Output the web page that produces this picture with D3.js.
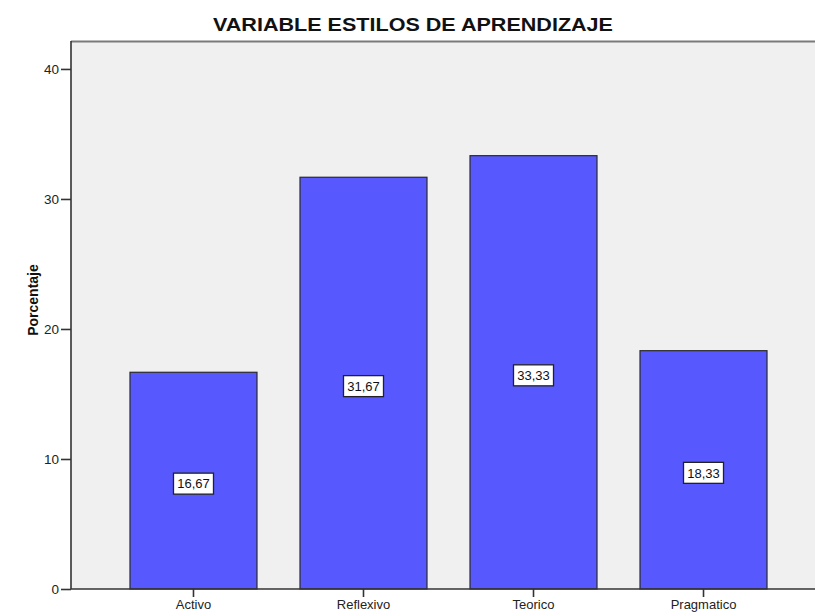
<!DOCTYPE html>
<html><head><meta charset="utf-8">
<script src="https://cdn.jsdelivr.net/npm/d3@7"></script>
<style>body{margin:0;background:#fff}svg{display:block}text{font-family:"Liberation Sans",Arial,sans-serif}</style>
</head><body>
<svg id="c" width="815" height="616"></svg>
<script>
const categories = ["Activo", "Reflexivo", "Teorico", "Pragmatico"];
const values = [16.67, 31.67, 33.33, 18.33];
const valueLabels = ["16,67", "31,67", "33,33", "18,33"];
const yTicks = [0, 10, 20, 30, 40];
const title = "VARIABLE ESTILOS DE APRENDIZAJE";
const yLabel = "Porcentaje";

const svg = d3.select("#c");
const pLeft = 71, pTop = 41, pBottom = 589, pRight = 826;
const y = d3.scaleLinear().domain([0, 42.15]).range([pBottom, pTop]);
const x = d3.scaleBand().domain(categories).range([pLeft, pRight])
  .paddingInner(0.253).paddingOuter(0.347);

svg.append("rect").attr("x", pLeft).attr("y", pTop).attr("width", 815 - pLeft).attr("height", pBottom - pTop)
  .attr("fill", "#f0f0f0");
svg.append("line").attr("x1", pLeft).attr("x2", 815).attr("y1", pTop + 0.5).attr("y2", pTop + 0.5)
  .attr("stroke", "#7a7a7a").attr("stroke-width", 2);

svg.selectAll(".bar").data(values).join("rect")
  .attr("x", (d, i) => x(categories[i]))
  .attr("y", d => y(d))
  .attr("width", x.bandwidth())
  .attr("height", d => pBottom - y(d))
  .attr("fill", "#5858ff").attr("stroke", "#2a2a2a").attr("stroke-width", 1.2);

const lbl = svg.selectAll(".lbl").data(values).join("g")
  .attr("transform", (d, i) => `translate(${x(categories[i]) + x.bandwidth() / 2},${(y(d) + pBottom) / 2 + 3})`);
lbl.append("rect").attr("x", -20).attr("y", -10.5).attr("width", 40).attr("height", 21)
  .attr("fill", "#fff").attr("stroke", "#222").attr("stroke-width", 1.3);
lbl.append("text").attr("text-anchor", "middle").attr("dy", "0.36em")
  .attr("font-size", 13).attr("fill", "#111").text((d, i) => valueLabels[i]);

const yAxis = svg.append("g").attr("transform", `translate(${pLeft},0)`)
  .call(d3.axisLeft(y).tickValues(yTicks).tickSize(10).tickPadding(2).tickSizeOuter(0));
yAxis.select(".domain").attr("d", `M0,${pTop}V${pBottom}`).attr("stroke", "#333").attr("stroke-width", 1.6);
yAxis.selectAll(".tick line").attr("stroke", "#333").attr("stroke-width", 1.6);
yAxis.selectAll(".tick text").attr("font-size", 13.5).attr("fill", "#222")
  .attr("font-family", "Liberation Sans, Arial, sans-serif");

const xAxis = svg.append("g").attr("transform", `translate(0,${pBottom})`)
  .call(d3.axisBottom(x).tickSize(8).tickPadding(3).tickSizeOuter(0));
xAxis.select(".domain").attr("d", `M${pLeft},0H815`).attr("stroke", "#333").attr("stroke-width", 1.6);
xAxis.selectAll(".tick line").attr("stroke", "#333").attr("stroke-width", 1.6);
xAxis.selectAll(".tick text").attr("font-size", 13).attr("fill", "#222")
  .attr("font-family", "Liberation Sans, Arial, sans-serif");

svg.append("text").attr("x", 413).attr("y", 31).attr("text-anchor", "middle")
  .attr("font-size", 18).attr("font-weight", "bold").attr("fill", "#111")
  .attr("textLength", 400).attr("lengthAdjust", "spacingAndGlyphs").text(title);

svg.append("text").attr("transform", "translate(38,300) rotate(-90)").attr("text-anchor", "middle")
  .attr("font-size", 14).attr("font-weight", "bold").attr("fill", "#111").text(yLabel);
</script>
</body></html>
